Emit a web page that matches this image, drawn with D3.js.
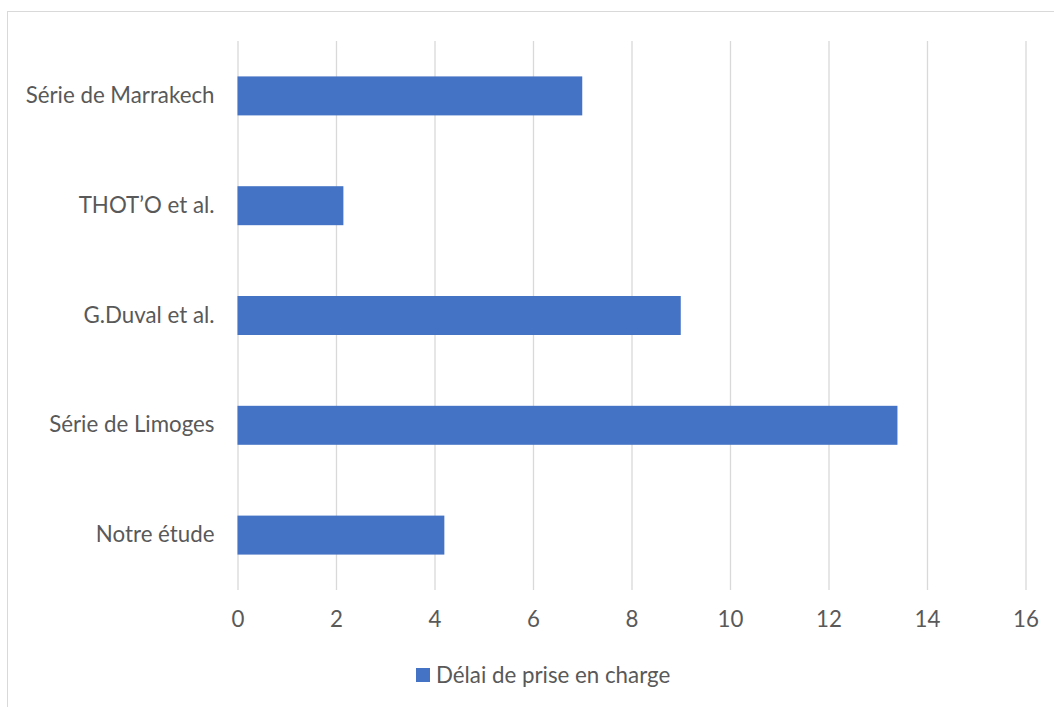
<!DOCTYPE html>
<html>
<head>
<meta charset="utf-8">
<script src="https://cdn.jsdelivr.net/npm/d3@7"></script>
<style>
  html, body { margin: 0; padding: 0; background: #fff; }
  svg { display: block; }
  text { font-family: Lato, "Open Sans", sans-serif; fill: #595959; }
</style>
</head>
<body>
<svg id="chart" width="1054" height="707"></svg>
<script>
// Study series and their delay values
const categories = ["Série de Marrakech", "THOT’O et al.", "G.Duval et al.", "Série de Limoges", "Notre étude"];
const delays = [7, 2.15, 9, 13.4, 4.2];
const xTicks = [0, 2, 4, 6, 8, 10, 12, 14, 16];
const seriesName = "Délai de prise en charge";

const svg = d3.select("#chart");
const W = 1054, H = 707;
const plot = { left: 237.5, right: 1025.5, top: 41, bottom: 590 };
const barColor = "#4472C4";
const gridColor = "#d9d9d9";
const fontSize = 22.3;

// Chart area outline
svg.append("rect")
  .attr("x", 7.5).attr("y", 11.5)
  .attr("width", W + 10).attr("height", H + 10)
  .attr("fill", "#fff").attr("stroke", gridColor).attr("stroke-width", 1);

const x = d3.scaleLinear().domain([0, 16]).range([plot.left, plot.right]);
const y = d3.scaleBand().domain(categories).range([plot.top, plot.bottom]).paddingInner(0.645).paddingOuter(0.3225);

// Vertical gridlines and value labels
const xAxis = d3.axisBottom(x).tickValues(xTicks).tickSize(-(plot.bottom - plot.top)).tickPadding(21);
const gx = svg.append("g").attr("transform", `translate(0,${plot.bottom})`).call(xAxis);
gx.select(".domain").remove();
gx.selectAll(".tick line").attr("stroke", gridColor).attr("stroke-width", 1.3);
gx.selectAll(".tick text").attr("font-size", fontSize).attr("fill", "#595959")
  .style("font-family", "Lato, sans-serif");

// Category labels
const yAxis = d3.axisLeft(y).tickSize(0).tickPadding(23);
const gy = svg.append("g").attr("transform", `translate(${plot.left},0)`).call(yAxis);
gy.select(".domain").remove();
gy.selectAll(".tick text").attr("font-size", fontSize).attr("fill", "#595959")
  .style("font-family", "Lato, sans-serif");

// Bars
svg.append("g").selectAll("rect")
  .data(categories.map((c, i) => ({ c, v: delays[i] })))
  .join("rect")
  .attr("x", x(0))
  .attr("y", d => y(d.c))
  .attr("width", d => x(d.v) - x(0))
  .attr("height", y.bandwidth())
  .attr("fill", barColor);

// Legend
const legend = svg.append("g").attr("transform", "translate(416,668)");
legend.append("rect").attr("width", 14).attr("height", 14).attr("fill", barColor);
legend.append("text").attr("x", 20).attr("y", 14.5).attr("font-size", fontSize).text(seriesName);
</script>
</body>
</html>
